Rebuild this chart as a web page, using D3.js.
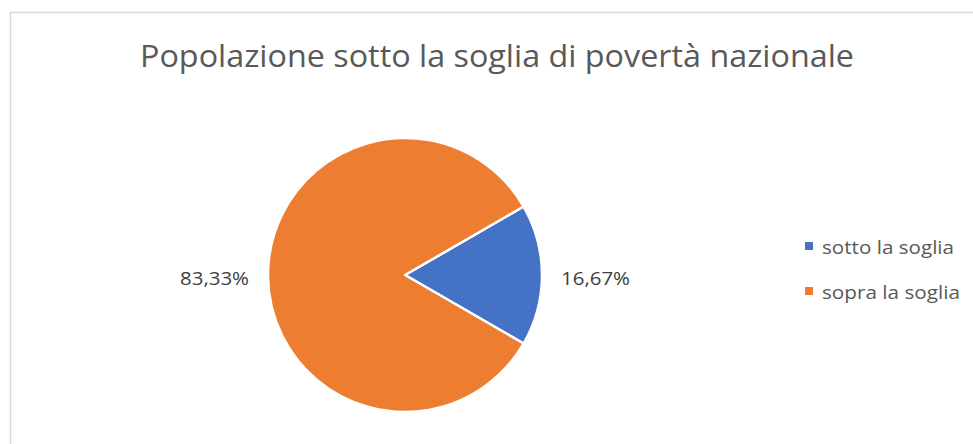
<!DOCTYPE html>
<html>
<head>
<meta charset="utf-8">
<script src="https://cdn.jsdelivr.net/npm/d3@7"></script>
<style>
  html, body { margin: 0; padding: 0; background: #fff; }
  svg { display: block; }
  text { font-family: "Open Sans", "Noto Sans", sans-serif; }
</style>
</head>
<body>
<svg id="chart" width="973" height="444"></svg>
<script>
const title = "Popolazione sotto la soglia di povertà nazionale";
const categories = ["sotto la soglia", "sopra la soglia"];
const shares = [16.67, 83.33];
const labels = ["16,67%", "83,33%"];
const colors = ["#4472C4", "#ED7D31"];

const svg = d3.select("#chart");
const W = 973, H = 444;

// chart frame
svg.append("rect")
  .attr("x", 10.5).attr("y", 12.5)
  .attr("width", W + 20).attr("height", H + 20)
  .attr("fill", "#fff").attr("stroke", "#d9d9d9").attr("stroke-width", 1.5);

// title
svg.append("text")
  .attr("x", 497).attr("y", 67)
  .attr("text-anchor", "middle")
  .attr("font-size", 31)
  .attr("fill", "#595959")
  .attr("textLength", 714)
  .attr("lengthAdjust", "spacingAndGlyphs")
  .text(title);

// pie
const cx = 405, cy = 275, r = 137;
const startAngle = Math.PI / 3; // first slice starts at 60°
const pie = d3.pie().sort(null).value(d => d)
  .startAngle(startAngle).endAngle(startAngle + 2 * Math.PI);
const arcs = pie(shares);
const arc = d3.arc().innerRadius(0).outerRadius(r);

const g = svg.append("g").attr("transform", `translate(${cx},${cy})`);
g.selectAll("path").data(arcs).join("path")
  .attr("d", arc)
  .attr("fill", (d, i) => colors[i])
  .attr("stroke", "#fff")
  .attr("stroke-width", 2.5)
  .attr("stroke-linejoin", "round");

// data labels outside the pie
const labelArc = d3.arc().innerRadius(r + 60).outerRadius(r + 60);
g.selectAll("text.lbl").data(arcs).join("text")
  .attr("class", "lbl")
  .attr("x", (d, i) => i === 0 ? r + 19 : -(r + 19))
  .attr("y", 10)
  .attr("text-anchor", (d, i) => i === 0 ? "start" : "end")
  .attr("font-size", 19)
  .attr("fill", "#404040")
  .attr("textLength", 69)
  .attr("lengthAdjust", "spacingAndGlyphs")
  .text((d, i) => labels[i]);

// legend
const legend = svg.append("g").attr("transform", "translate(805,242)");
const items = legend.selectAll("g").data(categories).join("g")
  .attr("transform", (d, i) => `translate(0,${i * 45})`);
items.append("rect")
  .attr("width", 8).attr("height", 8)
  .attr("fill", (d, i) => colors[i]);
items.append("text")
  .attr("x", 17).attr("y", 11.5)
  .attr("font-size", 19)
  .attr("fill", "#595959")
  .attr("textLength", (d, i) => i === 0 ? 132 : 138)
  .attr("lengthAdjust", "spacingAndGlyphs")
  .text(d => d);
</script>
</body>
</html>
